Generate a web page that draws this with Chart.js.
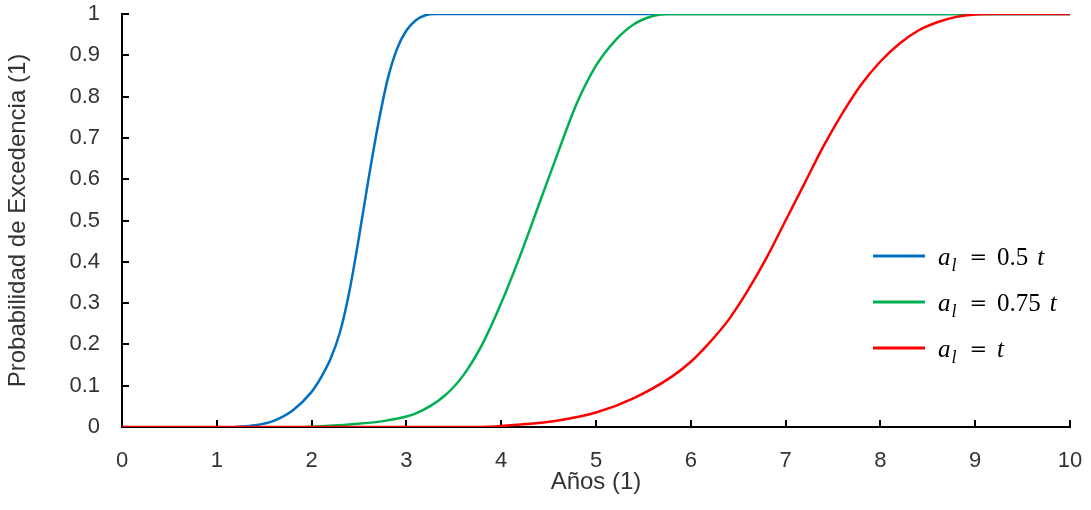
<!DOCTYPE html>
<html>
<head>
<meta charset="utf-8">
<script src="https://cdn.jsdelivr.net/npm/chart.js@4/dist/chart.umd.min.js"></script>
<style>
  body { margin: 0; background: #fff; }
  canvas { display: block; }
</style>
</head>
<body>
<canvas id="diagram" width="1091" height="510"></canvas>
<script>
// Años (t) and probabilidad de excedencia
var blueT = [1.2, 1.4, 1.6, 1.8, 2.0, 2.1, 2.2, 2.3, 2.4, 2.5, 2.6, 2.7, 2.8, 2.9, 3.0, 3.1, 3.2, 3.3, 10];
var blueP = [0, 0.004, 0.015, 0.04, 0.085, 0.12, 0.165, 0.23, 0.33, 0.46, 0.6, 0.73, 0.84, 0.915, 0.96, 0.985, 0.997, 1, 1];

var greenT = [1.95, 2.4, 2.8, 3.1, 3.4, 3.6, 3.8, 4.0, 4.2, 4.4, 4.6, 4.8, 5.0, 5.2, 5.4, 5.6, 5.75, 10];
var greenP = [0, 0.006, 0.016, 0.033, 0.075, 0.125, 0.2, 0.3, 0.415, 0.54, 0.665, 0.785, 0.875, 0.935, 0.975, 0.995, 1, 1];

var redT = [0, 3.8, 4.2, 4.6, 5.0, 5.4, 5.8, 6.0, 6.2, 6.4, 6.6, 6.8, 7.0, 7.2, 7.4, 7.6, 7.8, 8.0, 8.2, 8.4, 8.6, 8.8, 9.0, 9.15, 10];
var redP = [0, 0, 0.006, 0.016, 0.035, 0.07, 0.122, 0.158, 0.205, 0.26, 0.33, 0.41, 0.5, 0.59, 0.68, 0.76, 0.83, 0.885, 0.928, 0.96, 0.98, 0.993, 0.999, 1, 1];

// legend: a_l = coef t
var legendCoef = ['0.5', '0.75', ''];
var colors = ['#0070C0', '#00B050', '#FF0000'];

function toPoints(t, p) {
  return t.map(function (v, i) { return { x: v, y: p[i] }; });
}

// Legend drawn by hand so the subscript can be shown
var mathLegend = {
  id: 'mathLegend',
  afterDraw: function (chart) {
    var ctx = chart.ctx;
    var area = chart.chartArea;
    ctx.save();
    chart.data.datasets.forEach(function (ds, i) {
      var y = area.top + 242 + i * 46;
      var x0 = area.right - 197;
      ctx.strokeStyle = ds.borderColor;
      ctx.lineWidth = 3;
      ctx.beginPath();
      ctx.moveTo(x0, y);
      ctx.lineTo(x0 + 52, y);
      ctx.stroke();

      ctx.fillStyle = '#000';
      ctx.textBaseline = 'alphabetic';
      ctx.textAlign = 'left';
      var base = y + 9;
      var x = x0 + 65;
      ctx.font = 'italic 25px "Liberation Serif"';
      ctx.fillText('a', x, base);
      x += ctx.measureText('a').width + 1;
      ctx.font = 'italic 18px "Liberation Serif"';
      ctx.fillText('l', x, base + 6);
      x += ctx.measureText('l').width + 13;
      ctx.font = '21px "DejaVu Serif"';
      ctx.fillText('=', x, base - 1);
      x += ctx.measureText('=').width + 10;
      ctx.font = '25px "Liberation Serif"';
      if (legendCoef[i]) {
        ctx.fillText(legendCoef[i], x, base);
        x += ctx.measureText(legendCoef[i]).width + 9;
      }
      ctx.font = 'italic 25px "Liberation Serif"';
      ctx.fillText('t', x, base);
    });
    ctx.restore();
  }
};

// fixed axis boxes, no extra label padding around the plot
function noPad(scale) {
  scale.paddingTop = 0;
  scale.paddingBottom = 0;
  scale.paddingLeft = 0;
  scale.paddingRight = 0;
}

var ctx = document.getElementById('diagram').getContext('2d');
var tickFont = { family: '"Liberation Sans", Arial, sans-serif', size: 22 };
var titleFont = { family: '"Liberation Sans", Arial, sans-serif', size: 24 };

new Chart(ctx, {
  type: 'line',
  data: {
    datasets: [
      { label: 'a_l = 0.5 t', data: toPoints(blueT, blueP), borderColor: colors[0], order: 2 },
      { label: 'a_l = 0.75 t', data: toPoints(greenT, greenP), borderColor: colors[1], order: 1 },
      { label: 'a_l = t', data: toPoints(redT, redP), borderColor: colors[2], order: 0 }
    ]
  },
  options: {
    responsive: false,
    animation: false,
    layout: { padding: { top: 14, right: 21, left: 0, bottom: 0 } },
    elements: {
      point: { radius: 0 },
      line: { borderWidth: 2.5, cubicInterpolationMode: 'monotone', fill: false }
    },
    plugins: {
      legend: { display: false },
      tooltip: { enabled: false }
    },
    scales: {
      x: {
        type: 'linear',
        min: 0,
        max: 10,
        ticks: { stepSize: 1, color: '#333', font: tickFont, padding: 28, maxRotation: 0 },
        grid: { drawOnChartArea: false, drawTicks: true, tickLength: -7, color: '#000', lineWidth: 2 },
        border: { display: true, color: '#000', width: 2 },
        title: { display: true, text: 'Años (1)', color: '#333', font: titleFont, padding: { top: 0, bottom: 13 } },
        afterFit: function (scale) { scale.height = 83; noPad(scale); }
      },
      y: {
        type: 'linear',
        min: 0,
        max: 1,
        ticks: {
          stepSize: 0.1, color: '#333', font: tickFont, padding: 29,
          callback: function (v) { return String(Math.round(v * 10) / 10); }
        },
        grid: { drawOnChartArea: false, drawTicks: true, tickLength: -7, color: '#000', lineWidth: 2 },
        border: { display: true, color: '#000', width: 2 },
        title: { display: true, text: 'Probabilidad de Excedencia (1)', color: '#333', font: titleFont, padding: { top: 4, bottom: 4 } },
        afterFit: function (scale) { scale.width = 122; noPad(scale); }
      }
    }
  },
  plugins: [mathLegend]
});
</script>
</body>
</html>
